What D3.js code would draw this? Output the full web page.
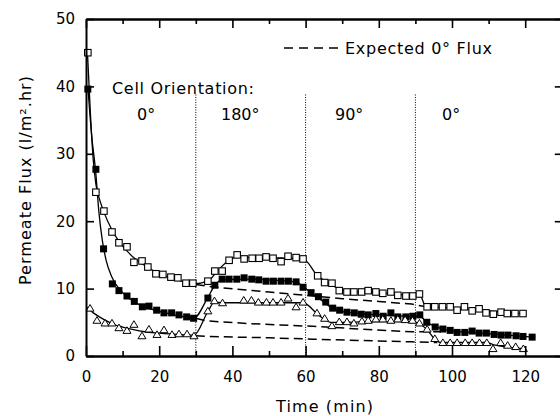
<!DOCTYPE html>
<html><head><meta charset="utf-8">
<script src="https://cdn.jsdelivr.net/npm/d3@7"></script>
<style>
body{margin:0;background:#fff}
svg{display:block}
text{font-family:"DejaVu Sans",sans-serif;fill:#000}
</style>
</head><body>
<svg id="c" width="560" height="416"></svg>
<script>
// ---------- data ----------
const xTickLabels = [0, 20, 40, 60, 80, 100, 120];
const xMinorTicks = [10, 30, 50, 70, 90, 110, 130];
const yTickLabels = [0, 10, 20, 30, 40, 50];
const orientationChanges = [30, 60, 90];
const orientationLabels = ["0°", "180°", "90°", "0°"];
const orientationLabelX = [137, 221, 335, 442];

// open squares
const openT = [0.5,2.7,4.9,7.1,9,11.2,13.1,15.3,16.9,19.1,21,23.2,25.1,27.3,29.2,
  33.3,35.2,37.2,39.1,41.3,43.2,45.4,47.3,49.2,51.1,53.3,55.2,57.4,59.3,
  63.3,65.2,67.2,69.2,71.3,73.2,75.3,77.1,79.2,81.1,83.3,85.2,87.4,89.3,91.1,
  93.2,95.3,97.4,99.5,101.4,103.4,105.5,107.4,109.3,111.3,113.4,115.1,117.2,119.4];
const openF = [45,24.3,21.5,18.4,16.8,16.2,13.9,14.1,13.2,12.2,12.1,11.7,11.6,10.8,10.8,
  11.1,12.6,12.6,14.2,15.0,14.4,14.5,14.5,14.7,14.5,14.0,14.8,14.6,14.4,
  11.9,10.9,10.8,9.7,9.5,9.5,9.5,9.7,9.5,9.3,9.5,9.0,8.9,8.9,9.2,
  7.3,7.3,7.3,7.3,6.8,7.3,6.7,7.0,6.4,6.2,6.5,6.3,6.3,6.3];

// filled squares
const fillT = [0.5,2.7,4.8,7.2,9,11.2,13.2,15.4,17.2,19.3,21.3,23.4,25.4,27.5,29.4,
  33.3,35.2,37.2,39.1,41.2,43.2,45.3,47.2,49.2,51.2,53.3,55.3,57.4,59.3,
  61.5,63.5,65.5,67.4,69.3,71.3,73.3,75.2,77.1,79.2,81.2,83.3,85.2,87.4,89.3,91.2,
  93.1,95.4,97.5,99.5,101.4,103.5,105.5,107.4,109.4,111.5,113.4,115.3,117.5,119.4,121.9];
const fillF = [39.6,27.7,15.9,10.7,9.7,8.9,8.1,7.3,7.4,6.8,6.4,6.4,6.1,5.8,5.6,
  8.6,10.5,11.4,11.4,11.4,11.6,11.4,11.3,11.1,11.1,11.1,11.1,11.0,10.2,
  9.4,8.8,8.0,7.1,6.8,6.5,6.4,6.2,6.1,6.3,5.9,6.4,5.8,5.8,5.9,6.1,
  5.0,4.3,4.0,3.8,3.5,3.5,3.7,3.4,3.4,3.2,3.1,3.1,3.0,2.9,2.8];

// open triangles
const triT = [1.1,3,5.2,7.1,9,11.2,13.1,15.3,17.2,19.4,21.3,23.5,25.4,27.6,29.5,
  33.3,35.1,37.3,43.1,45.2,47.1,49.3,51.1,53.3,55.2,57.4,59.3,
  63.1,65.2,67.2,69.2,71.3,73.2,75.4,77.1,79.2,81.1,83.3,85.2,87.2,89.2,91.1,
  93.2,95.3,97.5,99.5,101.4,103.6,105.5,107.5,109.5,111.2,113.3,115.2,117.4,119.5];
const triF = [7.1,5.3,4.9,4.9,4.2,3.8,4.7,3.0,4.0,3.2,3.9,3.2,3.3,3.3,3.0,
  6.7,8.2,7.9,8.3,8.3,8.0,8.0,8.0,8.0,8.6,7.3,8.0,
  6.4,5.6,4.5,5.1,5.1,4.9,5.2,5.3,5.5,5.5,5.3,5.5,5.4,5.3,4.9,
  4.0,2.6,2.0,2.0,2.0,2.0,2.0,2.0,2.0,1.1,2.0,1.6,1.4,1.1];

// solid fitted lines
const openFitT = [0.4,1.2,2,2.7,3.5,5,7,9,11,13,15,18,21,24,27,29.3,33.3,36,39.1,41.3,45,50,55,59.3,63.3,66,69,72,80,89.5,91.1,92.8,100,110,119.4];
const openFitF = [45,36,29,25.5,23.6,21.2,18.8,17.0,15.7,14.6,13.8,12.8,12.0,11.4,11.0,10.7,11.1,12.7,14.2,14.7,14.6,14.6,14.5,14.4,11.9,10.9,10.0,9.6,9.4,9.0,9.2,7.4,7.1,6.7,6.3];
const fillFitT = [0.5,1.5,2.7,3.5,4.5,5.5,7,9,11,13,15,18,21,24,27,29.4,33.3,35.2,37.2,45,55,57.4,59.3,61.5,65,67.4,70,75,80,89.3,91.2,93.1,95.4,97.5,100,105,110,115,121.9];
const fillFitF = [40,33,27,21.5,17,14.2,11.8,10.0,8.9,8.1,7.5,6.9,6.5,6.1,5.8,5.6,8.7,10.5,11.3,11.4,11.1,11.0,10.3,9.4,8.0,7.0,6.6,6.3,6.1,5.9,5.9,5.0,4.4,4.0,3.7,3.5,3.3,3.1,2.8];
const triFitT = [0,2,4,6,8,10,13,16,20,25,29.5,33.3,35.1,37.3,59.3,63.1,65.2,66.8,70,80,89.2,91.1,93.2,95.3,97,109.5,111.2,119.5];
const triFitF = [7.3,6.4,5.7,5.1,4.6,4.3,3.9,3.6,3.4,3.2,3.1,6.6,8.0,7.9,7.9,6.3,5.4,5.0,5.0,5.1,5.1,4.8,3.9,2.5,2.0,2.0,1.7,1.1];

// dashed "expected 0° flux" lines
const expTopT = [30,37,50,62,70,80,89,93];
const expTopF = [10.6,10.1,9.5,8.9,8.5,8.1,7.7,7.3];
const expMidT = [30,33,45,62,75,89,97];
const expMidF = [5.6,5.2,4.8,4.4,4.0,3.6,3.6];
const expBotT = [30,33,50,62,75,89,96];
const expBotF = [3.0,2.9,2.7,2.5,2.3,2.1,2.0];

const dottedTop = 38.8;

// ---------- drawing ----------
const svg = d3.select("#c");
const x = d3.scaleLinear().domain([0, 130]).range([86, 561.8]);
const y = d3.scaleLinear().domain([0, 50]).range([356, 19]);
const zip = (a, b) => a.map((t, i) => [t, b[i]]);
const line = d3.line().x(d => x(d[0])).y(d => y(d[1]));
const smooth = d3.line().x(d => x(d[0])).y(d => y(d[1])).curve(d3.curveMonotoneX);

// dotted orientation-change lines
svg.append("g").selectAll("line").data(orientationChanges).join("line")
  .attr("x1", d => x(d)).attr("x2", d => x(d))
  .attr("y1", y(dottedTop)).attr("y2", y(0))
  .attr("stroke", "#000").attr("stroke-width", 1).attr("stroke-dasharray", "1,1.5");

// dashed expected lines
[[expTopT, expTopF], [expMidT, expMidF], [expBotT, expBotF]].forEach(([t, f]) => {
  svg.append("path").datum(zip(t, f)).attr("d", line)
    .attr("fill", "none").attr("stroke", "#000").attr("stroke-width", 1.5)
    .attr("stroke-dasharray", "9,5");
});

// fitted solid lines
[[openFitT, openFitF], [fillFitT, fillFitF], [triFitT, triFitF]].forEach(([t, f]) => {
  svg.append("path").datum(zip(t, f)).attr("d", smooth)
    .attr("fill", "none").attr("stroke", "#000").attr("stroke-width", 1.3);
});

// markers
const sq = 6.5;
svg.append("g").selectAll("rect").data(zip(openT, openF)).join("rect")
  .attr("x", d => x(d[0]) - sq / 2).attr("y", d => y(d[1]) - sq / 2)
  .attr("width", sq).attr("height", sq)
  .attr("fill", "#fff").attr("stroke", "#000").attr("stroke-width", 1.1);
svg.append("g").selectAll("rect").data(zip(fillT, fillF)).join("rect")
  .attr("x", d => x(d[0]) - 3.5).attr("y", d => y(d[1]) - 3.5)
  .attr("width", 7).attr("height", 7).attr("fill", "#000");
svg.append("g").selectAll("path").data(zip(triT, triF)).join("path")
  .attr("transform", d => `translate(${x(d[0])},${y(d[1])})`)
  .attr("d", "M0,-3.6L4,3L-4,3Z")
  .attr("fill", "#fff").attr("stroke", "#000").attr("stroke-width", 1);

// axes
function styleAxis(g) {
  g.attr("font-family", "DejaVu Sans").attr("font-size", 15);
  g.select(".domain").attr("stroke-width", 2);
  g.selectAll(".tick line").attr("stroke-width", 1.6);
  g.selectAll(".tick text").attr("fill", "#000");
}
svg.append("g").attr("transform", "translate(0,356)")
  .call(d3.axisBottom(x).tickValues(xTickLabels).tickSize(-10).tickSizeOuter(0).tickPadding(15).tickFormat(d3.format("d")))
  .call(styleAxis);
svg.append("g").attr("transform", "translate(0,356)")
  .call(d3.axisBottom(x).tickValues(xMinorTicks).tickSize(-5).tickSizeOuter(0).tickFormat(""))
  .call(styleAxis);
svg.append("g").attr("transform", "translate(0,19)")
  .call(d3.axisTop(x).tickValues(xTickLabels).tickSize(-9).tickSizeOuter(0).tickFormat(""))
  .call(styleAxis);
svg.append("g").attr("transform", "translate(0,19)")
  .call(d3.axisTop(x).tickValues(xMinorTicks).tickSize(-5).tickSizeOuter(0).tickFormat(""))
  .call(styleAxis);
svg.append("g").attr("transform", "translate(86,0)")
  .call(d3.axisLeft(y).tickValues(yTickLabels).tickSize(-8).tickSizeOuter(0).tickPadding(11).tickFormat(d3.format("d")))
  .call(styleAxis);
svg.append("g").attr("transform", `translate(${x(130)},0)`)
  .call(d3.axisRight(y).tickValues(yTickLabels).tickSize(-7).tickSizeOuter(0).tickFormat(""))
  .call(styleAxis);

// titles
svg.append("text").attr("x", 276).attr("y", 412).attr("font-size", 16)
  .attr("textLength", 97).attr("lengthAdjust", "spacing").text("Time (min)");
svg.append("text").attr("transform", "translate(31,180.5) rotate(-90)")
  .attr("text-anchor", "middle").attr("font-size", 16)
  .attr("textLength", 209).attr("lengthAdjust", "spacing").text("Permeate Flux (l/m².hr)");

// annotations
svg.append("text").attr("x", 112).attr("y", 94).attr("font-size", 16)
  .attr("textLength", 142).attr("lengthAdjust", "spacing").text("Cell Orientation:");
svg.append("g").selectAll("text").data(orientationLabels).join("text")
  .attr("x", (d, i) => orientationLabelX[i]).attr("y", 120).attr("font-size", 16).text(d => d);

// legend
svg.append("line").attr("x1", 284).attr("x2", 338).attr("y1", 48).attr("y2", 48)
  .attr("stroke", "#000").attr("stroke-width", 1.5).attr("stroke-dasharray", "9,6");
svg.append("text").attr("x", 345).attr("y", 54).attr("font-size", 16)
  .attr("textLength", 147).attr("lengthAdjust", "spacing").text("Expected 0° Flux");
</script>
</body></html>
